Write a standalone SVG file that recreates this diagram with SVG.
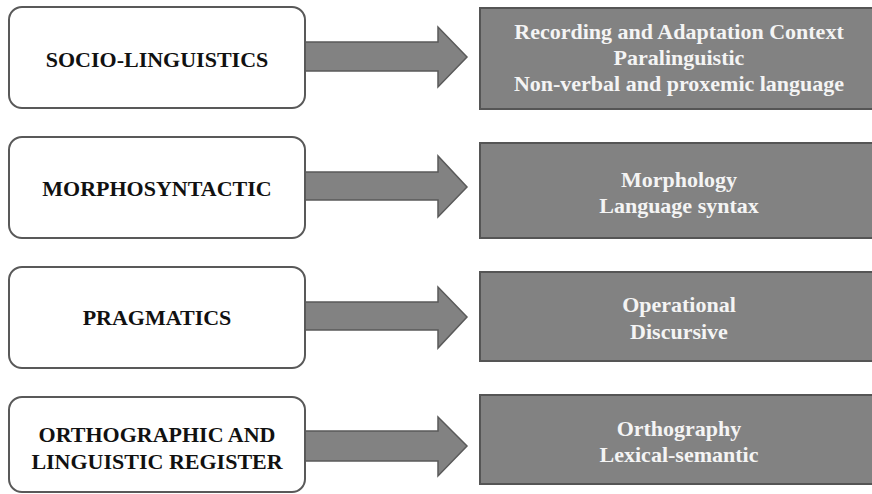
<svg xmlns="http://www.w3.org/2000/svg" width="872" height="494" viewBox="0 0 872 494">
<style>
.box{fill:#ffffff;stroke:#595959;stroke-width:2}
.gbox{fill:#828282;stroke:#555555;stroke-width:2}
.arrow{fill:#828282;stroke:#5a5a5a;stroke-width:1.5;stroke-linejoin:miter}
.lt{font-family:"Liberation Serif","Times New Roman",serif;font-weight:bold;font-size:22px;fill:#111111;text-anchor:middle}
.rt{font-family:"Liberation Serif","Times New Roman",serif;font-weight:bold;font-size:22px;fill:#f4f4f4;text-anchor:middle}
</style>
<rect width="872" height="494" fill="#ffffff"/>
<g id="connectors">
<polygon class="arrow" points="305,42 438,42 438,27 467,57 438,87 438,71 305,71"/>
<polygon class="arrow" points="305,172 438,172 438,156 467,187 438,217 438,200 305,200"/>
<polygon class="arrow" points="305,302 438,302 438,287 467,317 438,348 438,330 305,330"/>
<polygon class="arrow" points="305,431 438,431 438,417 467,446 438,476 438,461 305,461"/>
</g>
<g id="n1">
<rect class="box" x="9" y="7" width="296" height="101" rx="13"/>
<text class="lt" x="157" y="67">SOCIO-LINGUISTICS</text>
</g>
<g id="n2">
<rect class="box" x="9" y="137" width="296" height="101" rx="13"/>
<text class="lt" x="157" y="196">MORPHOSYNTACTIC</text>
</g>
<g id="n3">
<rect class="box" x="9" y="267" width="296" height="101" rx="13"/>
<text class="lt" x="157" y="325">PRAGMATICS</text>
</g>
<g id="n4">
<rect class="box" x="9" y="397" width="296" height="95" rx="13"/>
<text class="lt" x="157" y="442">ORTHOGRAPHIC AND</text>
<text class="lt" x="157" y="469">LINGUISTIC REGISTER</text>
</g>
<g id="r1">
<rect class="gbox" x="480" y="8" width="400" height="101"/>
<text class="rt" x="679" y="39">Recording and Adaptation Context</text>
<text class="rt" x="679" y="65">Paralinguistic</text>
<text class="rt" x="679" y="91">Non-verbal and proxemic language</text>
</g>
<g id="r2">
<rect class="gbox" x="480" y="143" width="400" height="95"/>
<text class="rt" x="679" y="187">Morphology</text>
<text class="rt" x="679" y="213">Language syntax</text>
</g>
<g id="r3">
<rect class="gbox" x="480" y="272" width="400" height="89"/>
<text class="rt" x="679" y="312">Operational</text>
<text class="rt" x="679" y="339">Discursive</text>
</g>
<g id="r4">
<rect class="gbox" x="480" y="395" width="400" height="89"/>
<text class="rt" x="679" y="436">Orthography</text>
<text class="rt" x="679" y="462">Lexical-semantic</text>
</g>
</svg>
